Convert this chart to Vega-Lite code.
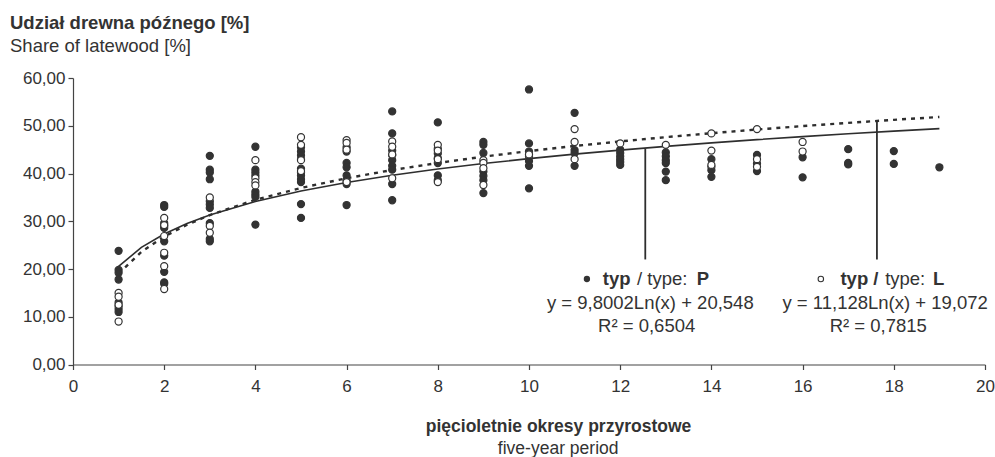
{
  "$schema": "https://vega.github.io/schema/vega-lite/v6.json",
  "width": 912,
  "height": 286.5,
  "autosize": "none",
  "padding": {"left": 73, "top": 78, "right": 10, "bottom": 92.5},
  "background": "white",
  "config": {
    "view": {"stroke": null},
    "font": "Liberation Sans",
    "text": {"font": "Liberation Sans", "color": "#333333"}
  },
  "title": {
    "text": "Udział drewna późnego [%]",
    "subtitle": "Share of latewood [%]",
    "anchor": "start",
    "frame": "group",
    "dx": -63,
    "offset": 14,
    "font": "Liberation Sans",
    "fontSize": 18.5,
    "fontWeight": "bold",
    "color": "#333333",
    "subtitleFont": "Liberation Sans",
    "subtitleFontSize": 18.5,
    "subtitleFontWeight": "normal",
    "subtitleColor": "#333333",
    "subtitlePadding": 4
  },
  "datasets": {
    "pts": [
      {"x":1,"y":23.8,"type":"P"},{"x":1,"y":19.8,"type":"P"},{"x":1,"y":19.2,"type":"P"},{"x":1,"y":17.8,"type":"P"},{"x":1,"y":13.0,"type":"P"},{"x":1,"y":12.2,"type":"P"},{"x":1,"y":11.6,"type":"P"},{"x":1,"y":11.0,"type":"P"},
      {"x":2,"y":33.4,"type":"P"},{"x":2,"y":33.0,"type":"P"},{"x":2,"y":29.6,"type":"P"},{"x":2,"y":29.0,"type":"P"},{"x":2,"y":28.6,"type":"P"},{"x":2,"y":25.8,"type":"P"},{"x":2,"y":22.8,"type":"P"},{"x":2,"y":19.4,"type":"P"},{"x":2,"y":17.2,"type":"P"},{"x":2,"y":16.9,"type":"P"},
      {"x":3,"y":43.7,"type":"P"},{"x":3,"y":40.8,"type":"P"},{"x":3,"y":40.2,"type":"P"},{"x":3,"y":38.8,"type":"P"},{"x":3,"y":34.2,"type":"P"},{"x":3,"y":33.5,"type":"P"},{"x":3,"y":32.8,"type":"P"},{"x":3,"y":29.6,"type":"P"},{"x":3,"y":26.3,"type":"P"},{"x":3,"y":25.8,"type":"P"},
      {"x":4,"y":45.6,"type":"P"},{"x":4,"y":40.8,"type":"P"},{"x":4,"y":40.2,"type":"P"},{"x":4,"y":39.6,"type":"P"},{"x":4,"y":36.2,"type":"P"},{"x":4,"y":35.6,"type":"P"},{"x":4,"y":35.1,"type":"P"},{"x":4,"y":29.3,"type":"P"},
      {"x":5,"y":45.5,"type":"P"},{"x":5,"y":44.6,"type":"P"},{"x":5,"y":43.8,"type":"P"},{"x":5,"y":43.0,"type":"P"},{"x":5,"y":41.0,"type":"P"},{"x":5,"y":40.2,"type":"P"},{"x":5,"y":39.6,"type":"P"},{"x":5,"y":38.8,"type":"P"},{"x":5,"y":38.2,"type":"P"},{"x":5,"y":33.6,"type":"P"},{"x":5,"y":30.7,"type":"P"},
      {"x":6,"y":45.5,"type":"P"},{"x":6,"y":44.6,"type":"P"},{"x":6,"y":42.2,"type":"P"},{"x":6,"y":41.3,"type":"P"},{"x":6,"y":39.6,"type":"P"},{"x":6,"y":38.6,"type":"P"},{"x":6,"y":37.8,"type":"P"},{"x":6,"y":33.4,"type":"P"},
      {"x":7,"y":53.0,"type":"P"},{"x":7,"y":48.4,"type":"P"},{"x":7,"y":44.8,"type":"P"},{"x":7,"y":43.8,"type":"P"},{"x":7,"y":42.8,"type":"P"},{"x":7,"y":41.6,"type":"P"},{"x":7,"y":40.8,"type":"P"},{"x":7,"y":37.8,"type":"P"},{"x":7,"y":34.4,"type":"P"},
      {"x":8,"y":50.7,"type":"P"},{"x":8,"y":45.2,"type":"P"},{"x":8,"y":44.2,"type":"P"},{"x":8,"y":43.2,"type":"P"},{"x":8,"y":42.2,"type":"P"},{"x":8,"y":39.6,"type":"P"},{"x":8,"y":38.6,"type":"P"},
      {"x":9,"y":46.6,"type":"P"},{"x":9,"y":46.0,"type":"P"},{"x":9,"y":44.3,"type":"P"},{"x":9,"y":40.4,"type":"P"},{"x":9,"y":39.5,"type":"P"},{"x":9,"y":38.6,"type":"P"},{"x":9,"y":35.9,"type":"P"},
      {"x":10,"y":57.6,"type":"P"},{"x":10,"y":46.3,"type":"P"},{"x":10,"y":44.6,"type":"P"},{"x":10,"y":43.6,"type":"P"},{"x":10,"y":42.6,"type":"P"},{"x":10,"y":41.6,"type":"P"},{"x":10,"y":36.9,"type":"P"},
      {"x":11,"y":52.7,"type":"P"},{"x":11,"y":44.9,"type":"P"},{"x":11,"y":44.3,"type":"P"},{"x":11,"y":41.6,"type":"P"},
      {"x":12,"y":45.0,"type":"P"},{"x":12,"y":44.3,"type":"P"},{"x":12,"y":43.6,"type":"P"},{"x":12,"y":43.0,"type":"P"},{"x":12,"y":42.4,"type":"P"},{"x":12,"y":41.8,"type":"P"},
      {"x":13,"y":44.4,"type":"P"},{"x":13,"y":43.6,"type":"P"},{"x":13,"y":42.8,"type":"P"},{"x":13,"y":42.2,"type":"P"},{"x":13,"y":40.4,"type":"P"},{"x":13,"y":38.6,"type":"P"},
      {"x":14,"y":43.0,"type":"P"},{"x":14,"y":41.4,"type":"P"},{"x":14,"y":40.7,"type":"P"},{"x":14,"y":39.3,"type":"P"},
      {"x":15,"y":43.9,"type":"P"},{"x":15,"y":42.1,"type":"P"},{"x":15,"y":40.5,"type":"P"},
      {"x":16,"y":43.4,"type":"P"},{"x":16,"y":39.2,"type":"P"},
      {"x":17,"y":45.1,"type":"P"},{"x":17,"y":42.2,"type":"P"},{"x":17,"y":41.9,"type":"P"},
      {"x":18,"y":44.7,"type":"P"},{"x":18,"y":42.0,"type":"P"},
      {"x":19,"y":41.3,"type":"P"},
      {"x":1,"y":15.0,"type":"L"},{"x":1,"y":14.2,"type":"L"},{"x":1,"y":12.5,"type":"L"},{"x":1,"y":9.0,"type":"L"},
      {"x":2,"y":30.7,"type":"L"},{"x":2,"y":29.2,"type":"L"},{"x":2,"y":26.9,"type":"L"},{"x":2,"y":23.4,"type":"L"},{"x":2,"y":20.6,"type":"L"},{"x":2,"y":15.8,"type":"L"},
      {"x":3,"y":35.0,"type":"L"},{"x":3,"y":29.0,"type":"L"},{"x":3,"y":27.6,"type":"L"},
      {"x":4,"y":42.8,"type":"L"},{"x":4,"y":39.0,"type":"L"},{"x":4,"y":38.2,"type":"L"},{"x":4,"y":37.5,"type":"L"},
      {"x":5,"y":47.6,"type":"L"},{"x":5,"y":46.0,"type":"L"},{"x":5,"y":42.8,"type":"L"},{"x":5,"y":40.5,"type":"L"},
      {"x":6,"y":47.0,"type":"L"},{"x":6,"y":46.4,"type":"L"},{"x":6,"y":45.0,"type":"L"},{"x":6,"y":38.2,"type":"L"},
      {"x":7,"y":46.7,"type":"L"},{"x":7,"y":45.6,"type":"L"},{"x":7,"y":44.0,"type":"L"},{"x":7,"y":39.0,"type":"L"},
      {"x":8,"y":46.0,"type":"L"},{"x":8,"y":44.8,"type":"L"},{"x":8,"y":43.0,"type":"L"},{"x":8,"y":38.2,"type":"L"},
      {"x":9,"y":42.8,"type":"L"},{"x":9,"y":42.2,"type":"L"},{"x":9,"y":41.1,"type":"L"},{"x":9,"y":37.6,"type":"L"},
      {"x":10,"y":44.0,"type":"L"},
      {"x":11,"y":49.3,"type":"L"},{"x":11,"y":46.6,"type":"L"},{"x":11,"y":43.0,"type":"L"},
      {"x":12,"y":46.3,"type":"L"},
      {"x":13,"y":46.0,"type":"L"},
      {"x":14,"y":48.4,"type":"L"},{"x":14,"y":44.8,"type":"L"},{"x":14,"y":41.8,"type":"L"},
      {"x":15,"y":49.3,"type":"L"},{"x":15,"y":43.0,"type":"L"},{"x":15,"y":41.4,"type":"L"},
      {"x":16,"y":46.6,"type":"L"},{"x":16,"y":44.6,"type":"L"}
    ],
    "trend": [
      {"x":1,"P":20.55,"L":19.07},{"x":1.5,"P":24.52,"L":23.58},{"x":2,"P":27.34,"L":26.79},{"x":2.5,"P":29.53,"L":29.27},
      {"x":3,"P":31.31,"L":31.30},{"x":4,"P":34.13,"L":34.50},{"x":5,"P":36.32,"L":36.98},{"x":6,"P":38.11,"L":39.01},
      {"x":7,"P":39.62,"L":40.73},{"x":8,"P":40.93,"L":42.21},{"x":9,"P":42.08,"L":43.52},{"x":10,"P":43.11,"L":44.70},
      {"x":11,"P":44.05,"L":45.76},{"x":12,"P":44.90,"L":46.72},{"x":13,"P":45.68,"L":47.61},{"x":14,"P":46.41,"L":48.44},
      {"x":15,"P":47.09,"L":49.21},{"x":16,"P":47.72,"L":49.93},{"x":17,"P":48.31,"L":50.60},{"x":18,"P":48.87,"L":51.24},
      {"x":19,"P":49.40,"L":51.84}
    ]
  },
  "layer": [
    {
      "data": {"name": "trend"},
      "mark": {"type": "line", "color": "#2e2e2e", "strokeWidth": 1.6},
      "encoding": {
        "x": {
          "field": "x", "type": "quantitative",
          "scale": {"domain": [0, 20], "nice": false, "zero": false},
          "axis": {
            "values": [0,2,4,6,8,10,12,14,16,18,20],
            "grid": false,
            "domainColor": "#444444", "domainWidth": 1.2,
            "tickColor": "#444444", "tickSize": 5, "tickWidth": 1.2,
            "labelFont": "Liberation Sans", "labelFontSize": 17, "labelColor": "#333333", "labelPadding": 9, "labelFlush": false,
            "title": "pięcioletnie okresy przyrostowe",
            "titleFont": "Liberation Sans", "titleFontSize": 17.5, "titleFontWeight": "bold", "titleColor": "#333333",
            "titleX": 485, "titleY": 62, "titleAlign": "center", "titleBaseline": "middle"
          }
        },
        "y": {
          "field": "P", "type": "quantitative",
          "scale": {"domain": [0, 60], "nice": false},
          "axis": {
            "values": [0,10,20,30,40,50,60],
            "grid": false,
            "domainColor": "#444444", "domainWidth": 1.2,
            "tickColor": "#444444", "tickSize": 5, "tickWidth": 1.2,
            "labelFont": "Liberation Sans", "labelFontSize": 17, "labelColor": "#333333", "labelPadding": 3,
            "labelExpr": "replace(format(datum.value, '.2f'), '.', ',')",
            "title": null
          }
        }
      }
    },
    {
      "data": {"name": "trend"},
      "mark": {"type": "line", "color": "#2e2e2e", "strokeWidth": 2.4, "strokeDash": [4, 5]},
      "encoding": {
        "x": {"field": "x", "type": "quantitative"},
        "y": {"field": "L", "type": "quantitative"}
      }
    },
    {
      "data": {"values": [{}]},
      "mark": {"type": "rule", "color": "#2e2e2e", "strokeWidth": 1.8},
      "encoding": {
        "x": {"datum": 12.55, "type": "quantitative"},
        "y": {"datum": 45.2, "type": "quantitative"},
        "y2": {"datum": 22.0}
      }
    },
    {
      "data": {"values": [{}]},
      "mark": {"type": "rule", "color": "#2e2e2e", "strokeWidth": 1.8},
      "encoding": {
        "x": {"datum": 17.63, "type": "quantitative"},
        "y": {"datum": 51.0, "type": "quantitative"},
        "y2": {"datum": 22.0}
      }
    },
    {
      "data": {"name": "pts"},
      "mark": {"type": "circle", "size": 50, "stroke": "#333333", "strokeWidth": 1.2, "opacity": 1},
      "encoding": {
        "x": {"field": "x", "type": "quantitative"},
        "y": {"field": "y", "type": "quantitative"},
        "fill": {"field": "type", "type": "nominal", "scale": {"domain": ["P", "L"], "range": ["#333333", "#ffffff"]}, "legend": null}
      }
    },
    {
      "data": {"values": [{}]},
      "mark": {"type": "circle", "size": 40, "fill": "#333333", "opacity": 1},
      "encoding": {"x": {"datum": 11.27, "type": "quantitative"}, "y": {"datum": 17.9, "type": "quantitative"}}
    },
    {
      "data": {"values": [{}]},
      "mark": {"type": "circle", "size": 30, "fill": "#ffffff", "stroke": "#333333", "strokeWidth": 1.1, "opacity": 1},
      "encoding": {"x": {"datum": 16.4, "type": "quantitative"}, "y": {"datum": 17.9, "type": "quantitative"}}
    },
    {
      "data": {"values": [{}]},
      "mark": {"type": "text", "text": "typ", "fontWeight": "bold", "fontSize": 18.5, "align": "left", "baseline": "middle"},
      "encoding": {"x": {"datum": 11.62, "type": "quantitative"}, "y": {"datum": 17.9, "type": "quantitative"}}
    },
    {
      "data": {"values": [{}]},
      "mark": {"type": "text", "text": "/ type:", "fontSize": 18.5, "align": "left", "baseline": "middle"},
      "encoding": {"x": {"datum": 12.37, "type": "quantitative"}, "y": {"datum": 17.9, "type": "quantitative"}}
    },
    {
      "data": {"values": [{}]},
      "mark": {"type": "text", "text": "P", "fontWeight": "bold", "fontSize": 18.5, "align": "left", "baseline": "middle"},
      "encoding": {"x": {"datum": 13.68, "type": "quantitative"}, "y": {"datum": 17.9, "type": "quantitative"}}
    },
    {
      "data": {"values": [{}]},
      "mark": {"type": "text", "text": "typ /", "fontWeight": "bold", "fontSize": 18.5, "align": "left", "baseline": "middle"},
      "encoding": {"x": {"datum": 16.83, "type": "quantitative"}, "y": {"datum": 17.9, "type": "quantitative"}}
    },
    {
      "data": {"values": [{}]},
      "mark": {"type": "text", "text": "type:", "fontSize": 18.5, "align": "left", "baseline": "middle"},
      "encoding": {"x": {"datum": 17.81, "type": "quantitative"}, "y": {"datum": 17.9, "type": "quantitative"}}
    },
    {
      "data": {"values": [{}]},
      "mark": {"type": "text", "text": "L", "fontWeight": "bold", "fontSize": 18.5, "align": "left", "baseline": "middle"},
      "encoding": {"x": {"datum": 18.86, "type": "quantitative"}, "y": {"datum": 17.9, "type": "quantitative"}}
    },
    {
      "data": {"values": [{}]},
      "mark": {"type": "text", "text": "y = 9,8002Ln(x) + 20,548", "fontSize": 18.5, "align": "center", "baseline": "middle"},
      "encoding": {"x": {"datum": 12.66, "type": "quantitative"}, "y": {"datum": 12.9, "type": "quantitative"}}
    },
    {
      "data": {"values": [{}]},
      "mark": {"type": "text", "text": "R² = 0,6504", "fontSize": 18.5, "align": "center", "baseline": "middle"},
      "encoding": {"x": {"datum": 12.58, "type": "quantitative"}, "y": {"datum": 8.05, "type": "quantitative"}}
    },
    {
      "data": {"values": [{}]},
      "mark": {"type": "text", "text": "y = 11,128Ln(x) + 19,072", "fontSize": 18.5, "align": "center", "baseline": "middle"},
      "encoding": {"x": {"datum": 17.81, "type": "quantitative"}, "y": {"datum": 12.9, "type": "quantitative"}}
    },
    {
      "data": {"values": [{}]},
      "mark": {"type": "text", "text": "R² = 0,7815", "fontSize": 18.5, "align": "center", "baseline": "middle"},
      "encoding": {"x": {"datum": 17.66, "type": "quantitative"}, "y": {"datum": 8.05, "type": "quantitative"}}
    },
    {
      "data": {"values": [{}]},
      "mark": {"type": "text", "text": "five-year period", "fontSize": 17.5, "align": "center", "baseline": "middle"},
      "encoding": {"x": {"datum": 10.64, "type": "quantitative"}, "y": {"datum": -17.7, "type": "quantitative"}}
    }
  ]
}
